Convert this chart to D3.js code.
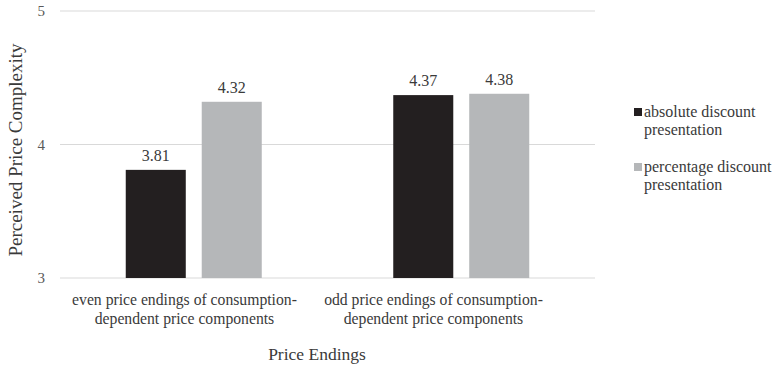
<!DOCTYPE html>
<html>
<head>
<meta charset="utf-8">
<script src="https://cdn.jsdelivr.net/npm/d3@7"></script>
<style>
  body { margin: 0; background: #fff; }
  text { font-family: "Liberation Serif", "Times New Roman", serif; fill: #3a3a3a; }
</style>
</head>
<body>
<svg width="778" height="365"></svg>
<script>
const categories = [
  ['even price endings of consumption-', 'dependent price components'],
  ['odd price endings of consumption-', 'dependent price components']
];
const seriesNames = ['absolute discount presentation', 'percentage discount presentation'];
const legendLines = [['absolute discount', 'presentation'], ['percentage discount', 'presentation']];
const absoluteVals = [3.81, 4.37];
const percentageVals = [4.32, 4.38];
const yTicks = [3, 4, 5];

const svg = d3.select('svg');
const colors = ['#231f20', '#b5b7b9'];
const catKeys = categories.map((c, i) => 'c' + i);

const scY = d3.scaleLinear().domain([3, 5]).range([278, 11]);
const scX = d3.scaleBand().domain(catKeys).range([60, 595]);
const scSub = d3.scaleBand().domain(seriesNames).range([66, 202]).paddingInner(0.21);
// category labels sit a little left of the bar groups in the source
const scLabel = d3.scaleBand().domain(catKeys).range([60, 558]);

// gridlines
svg.append('g').selectAll('line').data(yTicks).enter()
  .append('line')
  .attr('x1', 60).attr('x2', 595)
  .attr('y1', d => scY(d)).attr('y2', d => scY(d))
  .attr('stroke', '#d9d9d9').attr('stroke-width', 1);

// y tick labels
const axY = d3.axisLeft(scY).tickValues(yTicks).tickFormat(d3.format('d'))
  .tickSize(0).tickPadding(0);
svg.append('g').attr('transform', 'translate(45,0)').call(axY)
  .call(g => g.select('.domain').remove())
  .selectAll('text')
  .style('font-family', '"Liberation Serif", serif')
  .style('font-size', '15px').style('fill', '#595959');

// bars
const rows = catKeys.map((k, i) => ({ key: k, vals: [absoluteVals[i], percentageVals[i]] }));
const grp = svg.append('g').selectAll('g').data(rows).enter()
  .append('g').attr('transform', d => 'translate(' + (scX(d.key) - 0.25) + ',0)');

grp.selectAll('rect').data(d => d.vals.map((v, j) => ({ v, s: seriesNames[j], j }))).enter()
  .append('rect')
  .attr('x', d => scSub(d.s))
  .attr('width', scSub.bandwidth())
  .attr('y', d => scY(d.v))
  .attr('height', d => scY(3) - scY(d.v))
  .attr('fill', d => colors[d.j]);

grp.selectAll('text').data(d => d.vals.map((v, j) => ({ v, s: seriesNames[j] }))).enter()
  .append('text')
  .attr('x', d => scSub(d.s) + scSub.bandwidth() / 2)
  .attr('y', d => scY(d.v) - 9)
  .attr('text-anchor', 'middle')
  .style('font-size', '16px')
  .text(d => d.v.toFixed(2));

// category labels
const cl = svg.append('g').selectAll('text').data(catKeys).enter()
  .append('text')
  .attr('text-anchor', 'middle')
  .attr('x', d => scLabel(d) + scLabel.bandwidth() / 2)
  .attr('y', 305)
  .style('font-size', '15.7px');
cl.selectAll('tspan').data((d, i) => categories[i]).enter()
  .append('tspan')
  .attr('x', function () { return d3.select(this.parentNode).attr('x'); })
  .attr('dy', (d, i) => i === 0 ? 0 : 19)
  .text(d => d);

// axis titles
svg.append('text')
  .attr('x', 317).attr('y', 360)
  .attr('text-anchor', 'middle')
  .style('font-size', '17.5px')
  .text('Price Endings');

svg.append('text')
  .attr('transform', 'translate(22,150) rotate(-90)')
  .attr('text-anchor', 'middle')
  .style('font-size', '19px')
  .text('Perceived Price Complexity');

// legend
const lg = svg.append('g').selectAll('g').data(seriesNames).enter()
  .append('g').attr('transform', (d, i) => 'translate(634,' + (108 + i * 55) + ')');
lg.append('rect').attr('x', 0).attr('y', 0).attr('width', 8).attr('height', 8)
  .attr('fill', (d, i) => colors[i]);
const lt = lg.append('text').attr('x', 10).attr('y', 9).style('font-size', '16px');
lt.selectAll('tspan').data((d, i) => legendLines[i]).enter()
  .append('tspan')
  .attr('x', 10)
  .attr('dy', (d, i) => i === 0 ? 0 : 18)
  .text(d => d);
</script>
</body>
</html>
